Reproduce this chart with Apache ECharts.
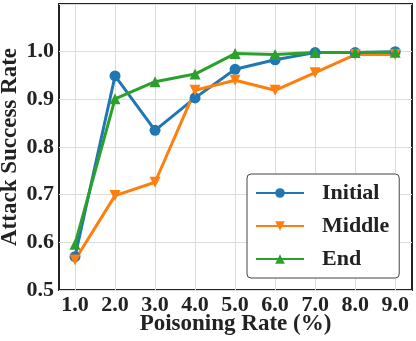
<!DOCTYPE html>
<html>
<head>
<meta charset="utf-8">
<script src="https://cdn.jsdelivr.net/npm/echarts@6/dist/echarts.min.js"></script>
<style>
  html, body { margin: 0; padding: 0; background: #fff; }
  #chart { width: 416px; height: 341px; }
</style>
</head>
<body>
<div id="chart"></div>
<script>
// poisoning rates (%)
var rates = [1, 2, 3, 4, 5, 6, 7, 8, 9];
var initial = [0.570, 0.949, 0.835, 0.903, 0.963, 0.983, 0.998, 0.998, 1.000];
var middle = [0.563, 0.698, 0.726, 0.919, 0.940, 0.919, 0.956, 0.994, 0.994];
var end = [0.596, 0.901, 0.937, 0.953, 0.996, 0.994, 0.998, 0.998, 0.999];

var font = '"Liberation Serif", "Times New Roman", serif';

function pairs(ys) {
  return rates.map(function (x, i) { return [x, ys[i]]; });
}

function line(name, ys, color, symbol, rotate) {
  return {
    name: name,
    type: 'line',
    data: pairs(ys),
    symbol: symbol,
    symbolRotate: rotate,
    symbolSize: 11,
    showSymbol: true,
    lineStyle: { color: color, width: 3 },
    itemStyle: { color: color },
    emphasis: { disabled: true },
    animation: false
  };
}

var chart = echarts.init(document.getElementById('chart'));
chart.setOption({
  animation: false,
  grid: {
    left: 59, right: 4, top: 4, bottom: 51,
    containLabel: false,
    outerBoundsMode: 'none',
    show: true,
    borderColor: '#222',
    borderWidth: 2,
    backgroundColor: '#fff'
  },
  legend: {
    orient: 'vertical',
    left: 247,
    top: 174,
    padding: [8, 10, 8, 8],
    itemWidth: 48,
    itemHeight: 12,
    itemGap: 11,
    backgroundColor: '#fff',
    borderColor: '#444',
    borderWidth: 1,
    borderRadius: 4,
    textStyle: {
      fontFamily: font, fontWeight: 'bold', fontSize: 22, color: '#222',
      padding: [0, 0, 0, 13]
    },
    data: ['Initial', 'Middle', 'End']
  },
  xAxis: {
    type: 'value',
    min: 0.6,
    max: 9.42,
    name: 'Poisoning Rate (%)',
    nameLocation: 'middle',
    nameGap: 23,
    nameMoveOverlap: false,
    nameTextStyle: { fontFamily: font, fontWeight: 'bold', fontSize: 23, color: '#222' },
    axisLine: { show: false },
    axisTick: { show: false, customValues: rates },
    axisLabel: {
      customValues: rates,
      fontFamily: font, fontWeight: 'bold', fontSize: 22, color: '#222', margin: 4,
      formatter: function (v) { return v.toFixed(1); }
    },
    splitLine: { show: true, lineStyle: { color: '#dddddd', width: 1 } }
  },
  yAxis: {
    type: 'value',
    min: 0.5,
    max: 1.1,
    interval: 0.1,
    name: 'Attack Success Rate',
    nameLocation: 'middle',
    nameGap: 37,
    nameMoveOverlap: false,
    nameTextStyle: { fontFamily: font, fontWeight: 'bold', fontSize: 23, color: '#222' },
    axisLine: { show: false },
    axisTick: { show: false },
    axisLabel: {
      fontFamily: font, fontWeight: 'bold', fontSize: 22, color: '#222', margin: 5,
      formatter: function (v) { return v > 1.05 ? '' : v.toFixed(1); }
    },
    splitLine: { show: true, lineStyle: { color: '#dddddd', width: 1 } }
  },
  series: [
    line('Initial', initial, '#1f77b4', 'circle', 0),
    line('Middle', middle, '#ff7f0e', 'triangle', 180),
    line('End', end, '#2ca02c', 'triangle', 0)
  ]
});
</script>
</body>
</html>
